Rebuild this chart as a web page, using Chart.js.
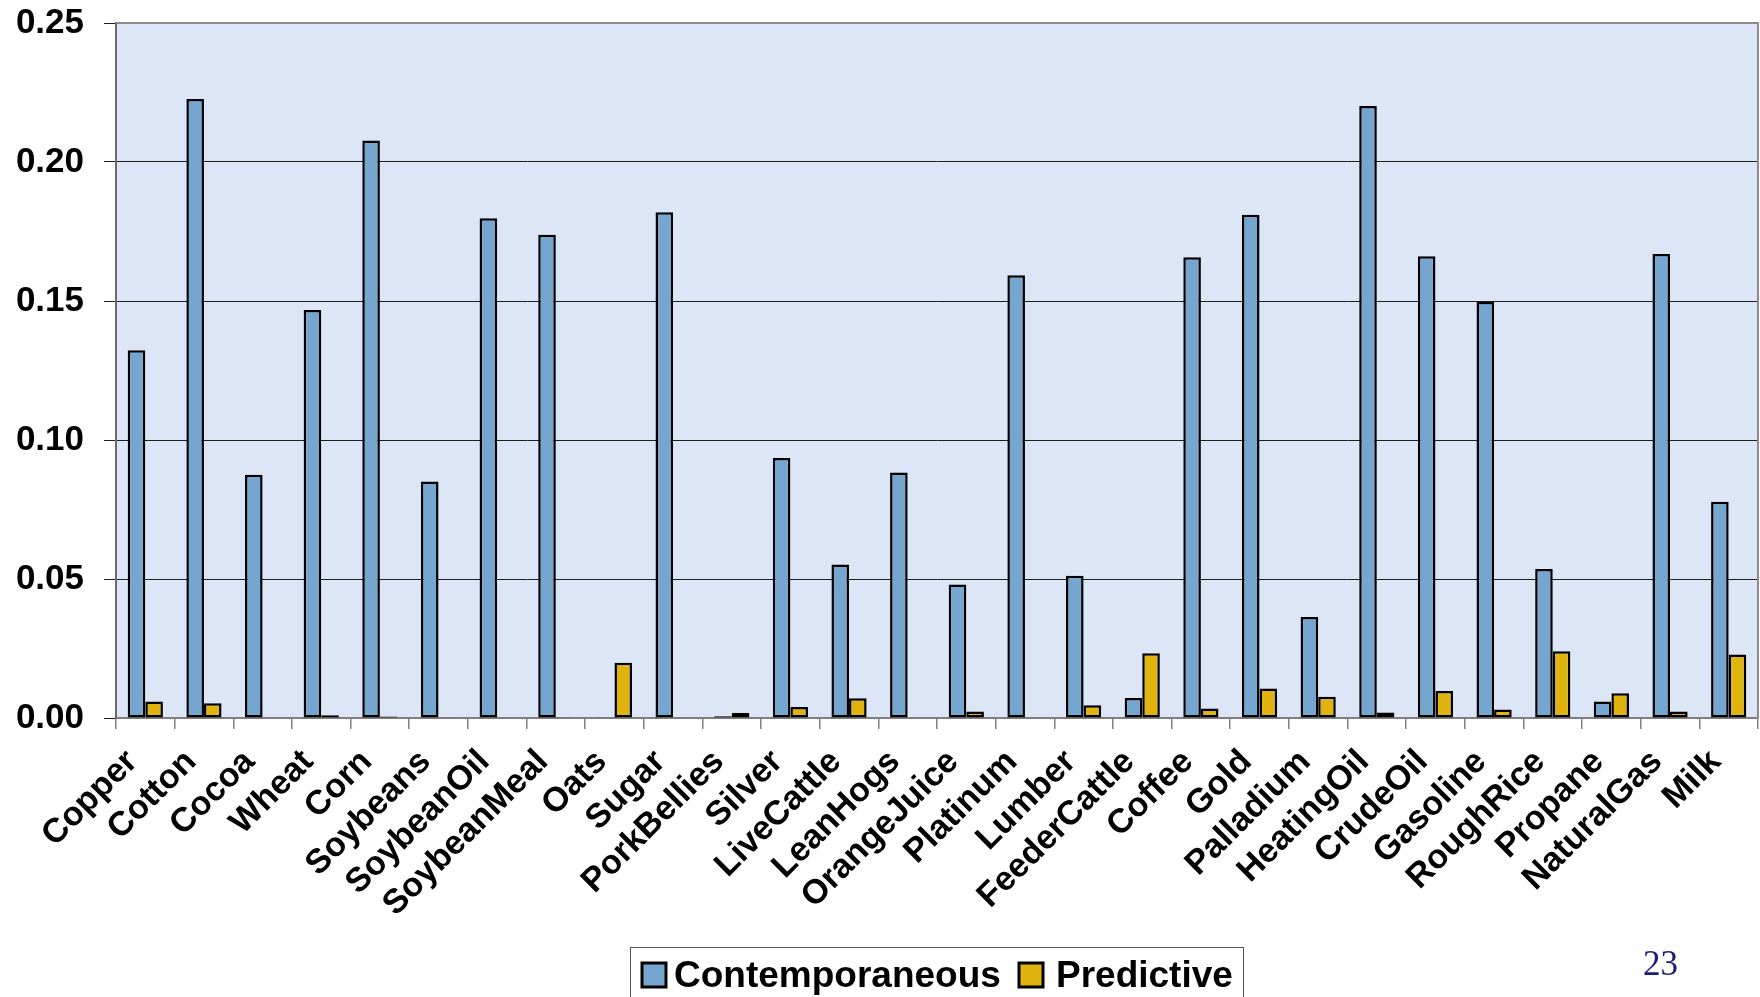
<!DOCTYPE html>
<html>
<head>
<meta charset="utf-8">
<script src="https://cdn.jsdelivr.net/npm/chart.js@4.4.1/dist/chart.umd.min.js"></script>
<style>
  html, body { margin: 0; padding: 0; background: #ffffff; }
  canvas { display: block; }
</style>
</head>
<body>
<canvas id="chart" width="1760" height="997"></canvas>
<script>
// Commodity futures, R-squared of contemporaneous vs predictive regressions
const commodities = [
  'Copper', 'Cotton', 'Cocoa', 'Wheat', 'Corn', 'Soybeans', 'SoybeanOil',
  'SoybeanMeal', 'Oats', 'Sugar', 'PorkBellies', 'Silver', 'LiveCattle',
  'LeanHogs', 'OrangeJuice', 'Platinum', 'Lumber', 'FeederCattle', 'Coffee',
  'Gold', 'Palladium', 'HeatingOil', 'CrudeOil', 'Gasoline', 'RoughRice',
  'Propane', 'NaturalGas', 'Milk'
];

const contemporaneous = [
  0.1323, 0.2227, 0.0875, 0.1468, 0.2077, 0.0851, 0.1798,
  0.1738, 0.0003, 0.1819, 0.0006, 0.0935, 0.0552,
  0.0883, 0.0480, 0.1593, 0.0512, 0.0072, 0.1657,
  0.1810, 0.0363, 0.2201, 0.1661, 0.1496, 0.0536,
  0.0059, 0.1669, 0.0778
];

const predictive = [
  0.0059, 0.0053, 0.0002, 0.0010, 0.0005, 0.0003, 0.0002,
  0.0001, 0.0199, 0.0002, 0.0018, 0.0040, 0.0071,
  0.0002, 0.0023, 0.0000, 0.0046, 0.0233, 0.0034,
  0.0106, 0.0076, 0.0020, 0.0097, 0.0031, 0.0240,
  0.0089, 0.0023, 0.0228
];

const seriesNames = ['Contemporaneous', 'Predictive'];
const yTickValues = [0, 0.05, 0.10, 0.15, 0.20, 0.25];
const pageNumber = '23';

const BLUE = '#75a6cf';
const GOLD = '#e0b30f';
const PLOT_BG = '#dce6f7';
const LABEL_FONT = { family: '"Liberation Sans", Arial, sans-serif', weight: 'bold', size: 35 };

// plot-area fill and frame
const plotFrame = {
  id: 'plotFrame',
  beforeDraw(chart) {
    const { ctx, chartArea: a } = chart;
    ctx.save();
    ctx.fillStyle = PLOT_BG;
    ctx.fillRect(a.left, a.top, a.right - a.left, a.bottom - a.top);
    ctx.restore();
  },
  afterDatasetsDraw(chart) {
    const { ctx, chartArea: a } = chart;
    ctx.save();
    ctx.strokeStyle = '#8c8c8c';
    ctx.lineWidth = 2;
    ctx.beginPath();
    ctx.moveTo(a.left, a.top);
    ctx.lineTo(a.right, a.top);
    ctx.lineTo(a.right, a.bottom);
    ctx.stroke();
    ctx.restore();
  }
};

// boxed legend under the axis, plus the page number
const boxedLegend = {
  id: 'boxedLegend',
  afterDraw(chart) {
    const { ctx } = chart;
    ctx.save();
    ctx.strokeStyle = '#555555';
    ctx.lineWidth = 1;
    ctx.strokeRect(630.5, 947.5, 613, 60);

    ctx.font = 'bold 37px "Liberation Sans", Arial, sans-serif';
    ctx.textBaseline = 'alphabetic';
    ctx.fillStyle = '#000';
    const items = [
      { sx: 642, tx: 674 },
      { sx: 1019, tx: 1056 }
    ];
    chart.data.datasets.forEach((ds, i) => {
      const it = items[i];
      ctx.fillStyle = ds.backgroundColor;
      ctx.fillRect(it.sx, 963, 24, 24);
      ctx.strokeStyle = '#000';
      ctx.lineWidth = 3;
      ctx.strokeRect(it.sx, 963, 24, 24);
      ctx.fillStyle = '#000';
      ctx.fillText(ds.label, it.tx, 987);
    });

    ctx.font = '35px "Liberation Serif", "Times New Roman", serif';
    ctx.fillStyle = '#1c1c78';
    ctx.fillText(pageNumber, 1643, 975);
    ctx.restore();
  }
};

new Chart(document.getElementById('chart'), {
  type: 'bar',
  data: {
    labels: commodities,
    datasets: [
      {
        label: seriesNames[0],
        data: contemporaneous,
        backgroundColor: BLUE,
        borderColor: '#000',
        borderWidth: 2.5,
        borderSkipped: false
      },
      {
        label: seriesNames[1],
        data: predictive,
        backgroundColor: GOLD,
        borderColor: '#000',
        borderWidth: 2.5,
        borderSkipped: false
      }
    ]
  },
  options: {
    responsive: false,
    devicePixelRatio: 1,
    animation: false,
    layout: { padding: { top: 23, right: 2, left: 0, bottom: 0 } },
    datasets: { bar: { categoryPercentage: 0.6, barPercentage: 1.0 } },
    plugins: {
      legend: { display: false },
      tooltip: { enabled: false }
    },
    scales: {
      x: {
        offset: true,
        grid: {
          offset: true,
          drawOnChartArea: false,
          drawTicks: true,
          tickLength: 11,
          color: '#7f7f7f',
          lineWidth: 1.5
        },
        border: { display: true, color: '#7f7f7f', width: 2 },
        ticks: {
          autoSkip: false,
          maxRotation: 45,
          minRotation: 45,
          color: '#000',
          padding: 13,
          labelOffset: -13,
          font: { ...LABEL_FONT, size: 34 }
        },
        afterFit(scale) {
          scale.height = 279;
          scale.paddingLeft = 0;
          scale.paddingRight = 0;
        }
      },
      y: {
        min: 0,
        max: 0.25,
        afterBuildTicks(scale) {
          scale.ticks = yTickValues.map(v => ({ value: v }));
        },
        grid: {
          color: ctx => (ctx.tick && (ctx.tick.value === 0 || ctx.tick.value === 0.25)) ? '#8c8c8c' : '#1e1e1e',
          lineWidth: 1,
          tickLength: 12,
          tickColor: '#1e1e1e'
        },
        border: { display: true, color: '#6b6b6b', width: 2 },
        ticks: {
          color: '#000',
          padding: 20,
          font: LABEL_FONT,
          callback: v => Number(v).toFixed(2)
        },
        afterFit(scale) {
          scale.width = 116;
          scale.paddingTop = 0;
          scale.paddingBottom = 0;
        }
      }
    }
  },
  plugins: [plotFrame, boxedLegend]
});
</script>
</body>
</html>
